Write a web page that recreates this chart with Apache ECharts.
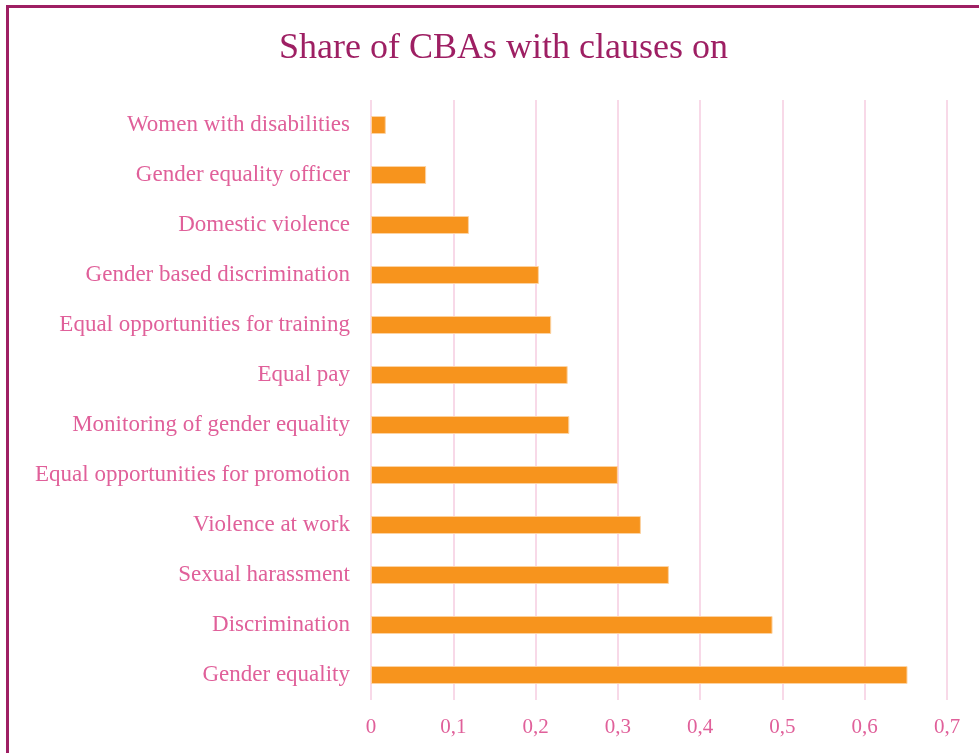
<!DOCTYPE html>
<html>
<head>
<meta charset="utf-8">
<script src="https://cdn.jsdelivr.net/npm/echarts@6/dist/echarts.min.js"></script>
<style>
    html, body { margin: 0; padding: 0; background: #fff; }
    #frame {
        position: absolute; left: 6px; top: 5px; width: 973px; height: 748px;
        border-top: 3px solid #9E1F63; border-left: 3px solid #9E1F63;
        box-sizing: border-box;
    }
    #container { position: absolute; left: 0; top: 0; width: 979px; height: 753px; }
</style>
</head>
<body>
<div id="frame"></div>
<div id="container"></div>
<script>
var categories = [
    'Women with disabilities',
    'Gender equality officer',
    'Domestic violence',
    'Gender based discrimination',
    'Equal opportunities for training',
    'Equal pay',
    'Monitoring of gender equality',
    'Equal opportunities for promotion',
    'Violence at work',
    'Sexual harassment',
    'Discrimination',
    'Gender equality'
];
var shares = [0.018, 0.067, 0.119, 0.204, 0.219, 0.239, 0.241, 0.300, 0.328, 0.362, 0.488, 0.652];

(function container() {
    var dom = document.getElementById("container");
    var chart = echarts.init(dom);
    var font = '"Liberation Serif", "DejaVu Serif", serif';

    var option = {
        backgroundColor: 'transparent',
        animation: false,
        title: {
            text: 'Share of CBAs with clauses on',
            left: 274,
            top: 26,
            textStyle: {
                fontFamily: font,
                fontWeight: 'normal',
                fontSize: 36,
                color: '#9E1F63'
            }
        },
        grid: {
            left: 371,
            right: 32,
            top: 100,
            bottom: 53
        },
        xAxis: {
            type: 'value',
            min: 0,
            max: 0.7,
            interval: 0.1,
            axisLine: { show: false },
            axisTick: { show: false },
            axisLabel: {
                margin: 17,
                fontFamily: font,
                fontSize: 21,
                color: '#E0609A',
                formatter: function (v) {
                    return String(Math.round(v * 10) / 10).replace('.', ',');
                }
            },
            splitLine: {
                lineStyle: { color: '#F8D9E8', width: 2 }
            }
        },
        yAxis: {
            type: 'category',
            inverse: true,
            data: categories,
            axisLine: { show: false },
            axisTick: { show: false },
            axisLabel: {
                margin: 21,
                fontFamily: font,
                fontSize: 23,
                color: '#E0609A'
            }
        },
        series: [{
            type: 'bar',
            barWidth: 18,
            data: shares,
            itemStyle: {
                color: '#F7941D',
                borderColor: '#FCD3A3',
                borderWidth: 1
            }
        }]
    };

    chart.setOption(option, true);
})();
</script>
</body>
</html>
